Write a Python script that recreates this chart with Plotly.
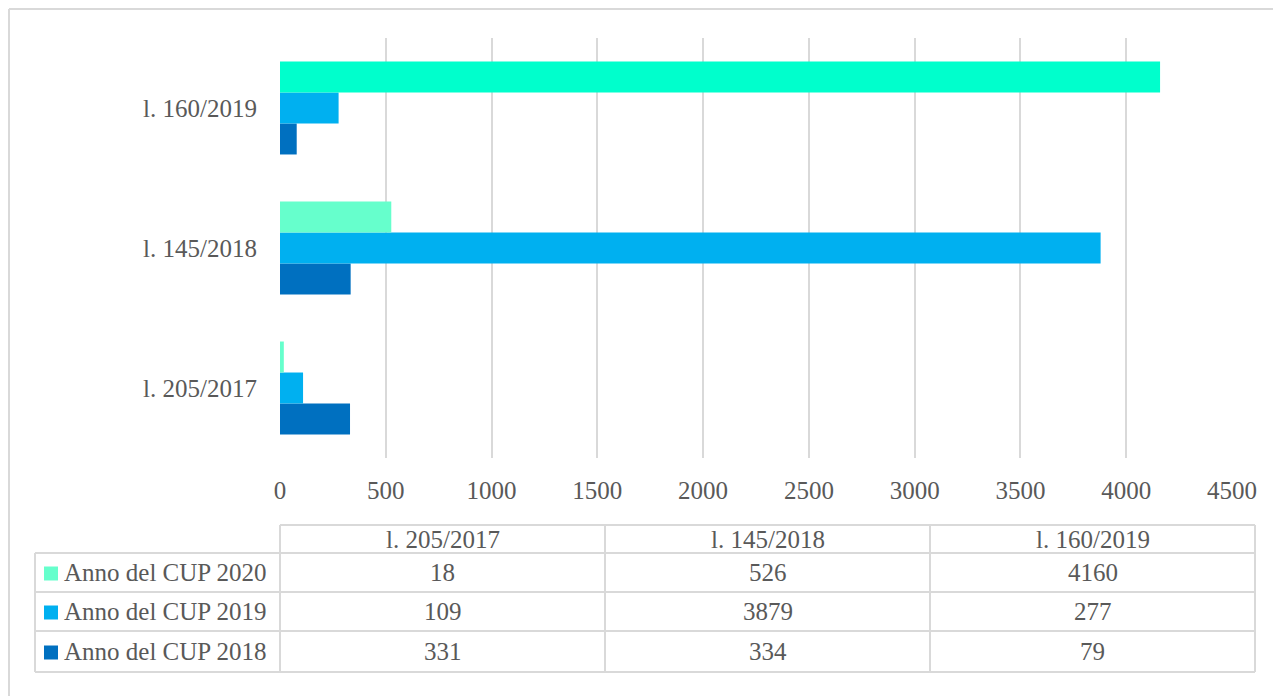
import plotly.graph_objects as go

categories = ["l. 205/2017", "l. 145/2018", "l. 160/2019"]
series_names = ["Anno del CUP 2018", "Anno del CUP 2019", "Anno del CUP 2020"]
values_2018 = [331, 334, 79]
values_2019 = [109, 3879, 277]
values_2020 = [18, 526, 4160]
series_values = [values_2018, values_2019, values_2020]
x_ticks = [0, 500, 1000, 1500, 2000, 2500, 3000, 3500, 4000, 4500]

colors = ["#0070C0", "#00B0F0", "#66FFCC"]
point_colors = [
    ["#0070C0"] * 3,
    ["#00B0F0"] * 3,
    ["#66FFCC", "#66FFCC", "#00FFCC"],
]

OFF = 8  # page body margin
W, H = 1281 - OFF, 696 - OFF
L, R, T, B = 280 - OFF, 1232 - OFF, 38 - OFF, 458 - OFF
FONT = "Liberation Serif"
FS = 25
TXT = "#595959"
GRID = "#d9d9d9"


def px(xp):
    return (xp - OFF - L) / (R - L)


def py(yp):
    return (B - (yp - OFF)) / (B - T)


fig = go.Figure()
for name, vals, pc in zip(series_names, series_values, point_colors):
    fig.add_trace(go.Bar(
        y=categories, x=vals, name=name, orientation="h",
        marker=dict(color=pc, line=dict(width=0)),
        showlegend=False,
    ))

shapes = []
annotations = []

# outer chart border
shapes.append(dict(type="line", xref="paper", yref="paper",
                   x0=px(9), x1=px(1300), y0=py(9), y1=py(9),
                   line=dict(color=GRID, width=2)))
shapes.append(dict(type="line", xref="paper", yref="paper",
                   x0=px(9), x1=px(9), y0=py(9), y1=py(710),
                   line=dict(color=GRID, width=2)))

# data table
col_edges = [280, 605, 930, 1255]
row_edges = [525, 553, 592, 631, 672]
left_edge = 35
lw = 2
shapes.append(dict(type="line", xref="paper", yref="paper",
                   x0=px(col_edges[0]), x1=px(col_edges[-1]), y0=py(row_edges[0]), y1=py(row_edges[0]),
                   line=dict(color=GRID, width=lw)))
for r in row_edges[1:]:
    shapes.append(dict(type="line", xref="paper", yref="paper",
                       x0=px(left_edge), x1=px(col_edges[-1]), y0=py(r), y1=py(r),
                       line=dict(color=GRID, width=lw)))
for c in col_edges:
    shapes.append(dict(type="line", xref="paper", yref="paper",
                       x0=px(c), x1=px(c), y0=py(row_edges[0]), y1=py(row_edges[-1]),
                       line=dict(color=GRID, width=lw)))
shapes.append(dict(type="line", xref="paper", yref="paper",
                   x0=px(left_edge), x1=px(left_edge), y0=py(row_edges[1]), y1=py(row_edges[-1]),
                   line=dict(color=GRID, width=lw)))

for i, cat in enumerate(categories):
    cx = (col_edges[i] + col_edges[i + 1]) / 2
    cy = (row_edges[0] + row_edges[1]) / 2
    annotations.append(dict(xref="paper", yref="paper", x=px(cx), y=py(cy),
                            text=cat, showarrow=False, xanchor="center", yanchor="middle",
                            font=dict(family=FONT, size=FS, color=TXT)))

row_order = [2, 1, 0]
for ri, si in enumerate(row_order):
    cy = (row_edges[ri + 1] + row_edges[ri + 2]) / 2
    shapes.append(dict(type="rect", xref="paper", yref="paper",
                       x0=px(44), x1=px(58), y0=py(cy - 6), y1=py(cy + 8),
                       fillcolor=colors[si], line=dict(width=0)))
    annotations.append(dict(xref="paper", yref="paper", x=px(62), y=py(cy),
                            text=series_names[si], showarrow=False, xanchor="left", yanchor="middle",
                            font=dict(family=FONT, size=FS, color=TXT)))
    for ci in range(3):
        cx = (col_edges[ci] + col_edges[ci + 1]) / 2
        annotations.append(dict(xref="paper", yref="paper", x=px(cx), y=py(cy),
                                text=str(series_values[si][ci]), showarrow=False,
                                xanchor="center", yanchor="middle",
                                font=dict(family=FONT, size=FS, color=TXT)))

fig.update_layout(
    width=W, height=H,
    margin=dict(l=L, r=W - R, t=T, b=H - B, autoexpand=False),
    paper_bgcolor="white", plot_bgcolor="white",
    barmode="group", bargap=0.336, bargroupgap=0,
    font=dict(family=FONT, size=FS, color=TXT),
    shapes=shapes, annotations=annotations,
    xaxis=dict(range=[0, 4500], tickvals=x_ticks, showgrid=True, gridcolor=GRID, gridwidth=2,
               zeroline=False, showline=False, ticks="", ticklabelstandoff=15,
               tickfont=dict(family=FONT, size=FS, color=TXT), fixedrange=True),
    yaxis=dict(categoryorder="array", categoryarray=categories, showgrid=False, zeroline=False,
               showline=False, ticks="", ticklabelstandoff=22,
               tickfont=dict(family=FONT, size=FS, color=TXT), fixedrange=True),
)

fig.write_html("out.html")
